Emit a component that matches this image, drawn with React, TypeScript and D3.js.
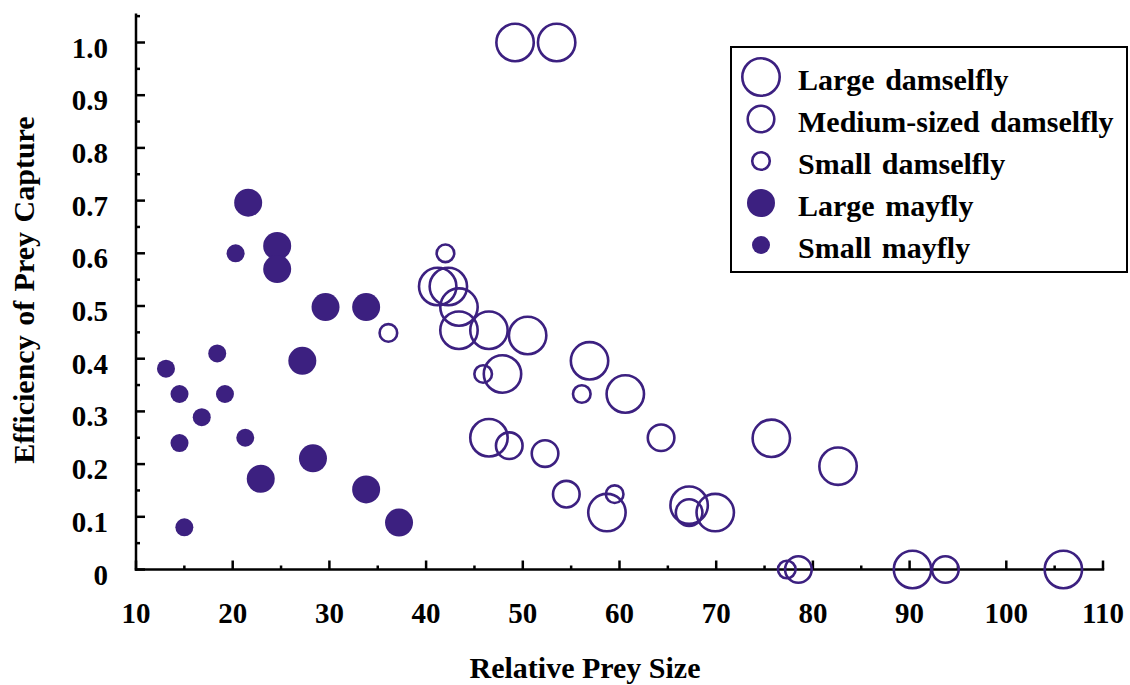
import React, { useEffect, useRef } from 'react';
import * as d3 from 'd3';

// [relative prey size, efficiency of prey capture]
const largeDamselfly: [number, number][] = [
  [49.2, 1.0], [53.5, 1.0],
  [41.2, 0.537], [42.3, 0.537], [43.4, 0.498], [43.4, 0.454], [46.5, 0.454], [50.5, 0.444],
  [47.9, 0.371], [56.9, 0.396], [60.6, 0.333],
  [46.5, 0.25], [58.7, 0.108], [67.2, 0.122], [69.9, 0.108],
  [75.7, 0.249], [82.6, 0.196],
  [90.3, 0], [105.9, 0],
];
const mediumDamselfly: [number, number][] = [
  [48.6, 0.235], [52.3, 0.22], [64.3, 0.25], [54.5, 0.143], [67.2, 0.108], [78.5, 0], [93.7, 0],
];
const smallDamselfly: [number, number][] = [
  [42.0, 0.6], [36.1, 0.449], [45.9, 0.371], [56.1, 0.333], [59.5, 0.143], [77.3, 0],
];
const largeMayfly: [number, number][] = [
  [21.6, 0.696], [24.6, 0.614], [24.6, 0.57], [29.6, 0.498], [33.8, 0.498], [27.2, 0.396],
  [22.9, 0.172], [28.3, 0.211], [33.8, 0.152], [37.2, 0.089],
];
const smallMayfly: [number, number][] = [
  [20.3, 0.6], [18.4, 0.41], [13.1, 0.381], [14.5, 0.333], [19.2, 0.333], [16.8, 0.289],
  [14.5, 0.24], [21.3, 0.25], [15.0, 0.08],
];

const xTicks = [10, 20, 30, 40, 50, 60, 70, 80, 90, 100, 110];
const yTicks = [0, 0.1, 0.2, 0.3, 0.4, 0.5, 0.6, 0.7, 0.8, 0.9, 1.0];
const yTickLabels = ['0', '0.1', '0.2', '0.3', '0.4', '0.5', '0.6', '0.7', '0.8', '0.9', '1.0'];

const legendLabels = ['Large damselfly', 'Medium-sized damselfly', 'Small damselfly', 'Large mayfly', 'Small mayfly'];

const App = () => {
  const ref = useRef<SVGSVGElement>(null);

  useEffect(() => {
    const width = 1130;
    const height = 685;
    const color = '#3c2080';
    const font = '"Liberation Serif", "Times New Roman", serif';

    const svg = d3.select(ref.current);
    svg.selectAll('*').remove();
    svg.attr('width', width).attr('height', height);

    const xScale = d3.scaleLinear().domain([10, 110]).range([136, 1103]);
    const yScale = d3.scaleLinear().domain([0, 1]).range([569.5, 42.5]);

    const series = [
      { data: largeDamselfly, r: 18.7, filled: false },
      { data: mediumDamselfly, r: 13.3, filled: false },
      { data: smallDamselfly, r: 8.8, filled: false },
      { data: largeMayfly, r: 14, filled: true },
      { data: smallMayfly, r: 9, filled: true },
    ];

    // 坐标轴
    const axis = svg.append('g').attr('stroke', '#000').attr('stroke-width', 2.5);
    axis.append('line')
      .attr('x1', xScale(10)).attr('x2', xScale(10))
      .attr('y1', yScale(1.055)).attr('y2', yScale(0) + 1.2);
    axis.append('line')
      .attr('x1', xScale(10) - 1.2).attr('x2', xScale(110) + 1.2)
      .attr('y1', yScale(0)).attr('y2', yScale(0));

    // y ticks (pointing inward)
    d3.range(0, 22).forEach(i => {
      const v = i * 0.05;
      const len = i % 2 === 0 ? 9 : 4;
      axis.append('line')
        .attr('x1', xScale(10)).attr('x2', xScale(10) + len)
        .attr('y1', yScale(v)).attr('y2', yScale(v));
    });
    // x ticks
    d3.range(0, 21).forEach(i => {
      const v = 10 + i * 5;
      const len = i % 2 === 0 ? 9 : 4;
      axis.append('line')
        .attr('x1', xScale(v)).attr('x2', xScale(v))
        .attr('y1', yScale(0)).attr('y2', yScale(0) - len);
    });

    const labels = svg.append('g')
      .attr('font-family', font)
      .attr('font-weight', 'bold')
      .attr('font-size', 29)
      .attr('fill', '#000');

    labels.selectAll('.ylab')
      .data(yTicks)
      .enter()
      .append('text')
      .attr('class', 'ylab')
      .attr('x', 108)
      .attr('y', d => yScale(d) + 15)
      .attr('text-anchor', 'end')
      .text((d, i) => yTickLabels[i]);

    labels.selectAll('.xlab')
      .data(xTicks)
      .enter()
      .append('text')
      .attr('class', 'xlab')
      .attr('x', d => xScale(d))
      .attr('y', 623)
      .attr('text-anchor', 'middle')
      .text(d => String(d));

    // 坐标轴标题
    svg.append('text')
      .attr('x', 585)
      .attr('y', 678)
      .attr('text-anchor', 'middle')
      .attr('font-family', font)
      .attr('font-weight', 'bold')
      .attr('font-size', 30)
      .text('Relative Prey Size');

    svg.append('text')
      .attr('transform', 'translate(34, 290) rotate(-90)')
      .attr('text-anchor', 'middle')
      .attr('font-family', font)
      .attr('font-weight', 'bold')
      .attr('font-size', 30)
      .attr('word-spacing', 2)
      .text('Efficiency of Prey Capture');

    // 散点
    const plot = svg.append('g');
    series.forEach(s => {
      plot.selectAll(null)
        .data(s.data)
        .enter()
        .append('circle')
        .attr('cx', d => xScale(d[0]))
        .attr('cy', d => yScale(d[1]))
        .attr('r', s.r)
        .attr('fill', s.filled ? color : 'none')
        .attr('stroke', s.filled ? 'none' : color)
        .attr('stroke-width', 2.6);
    });

    // 图例
    const legend = svg.append('g');
    legend.append('rect')
      .attr('x', 731).attr('y', 47)
      .attr('width', 396).attr('height', 225)
      .attr('fill', '#fff')
      .attr('stroke', '#000')
      .attr('stroke-width', 2);

    series.forEach((s, i) => {
      const cy = 77 + i * 42;
      legend.append('circle')
        .attr('cx', 761).attr('cy', cy)
        .attr('r', s.r)
        .attr('fill', s.filled ? color : 'none')
        .attr('stroke', s.filled ? 'none' : color)
        .attr('stroke-width', 2.6);
      legend.append('text')
        .attr('x', 798)
        .attr('y', cy + 13)
        .attr('font-family', font)
        .attr('font-weight', 'bold')
        .attr('font-size', 30)
        .attr('word-spacing', 3)
        .text(legendLabels[i]);
    });
  }, []);

  return (
    <div className="ScatterChart">
      <svg ref={ref} style={{ position: 'absolute', left: 0, top: 0 }}></svg>
    </div>
  );
};

export default App;
